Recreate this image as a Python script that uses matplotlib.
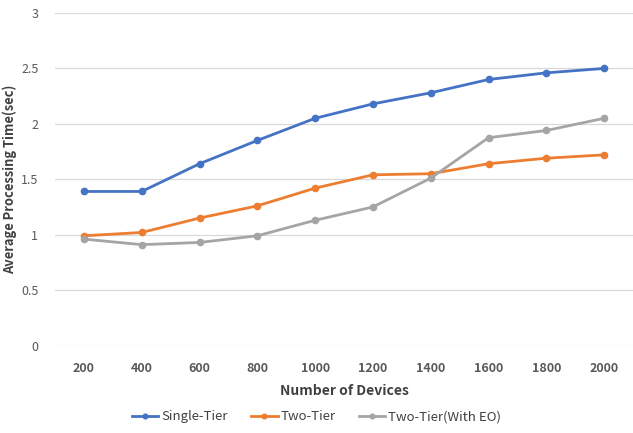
import numpy as np
import matplotlib
matplotlib.use("Agg")
import matplotlib.pyplot as plt

plt.rcParams['font.family'] = ['Noto Sans CJK KR', 'DejaVu Sans']

devices = ["200", "400", "600", "800", "1000", "1200", "1400", "1600", "1800", "2000"]
single_tier = [1.39, 1.39, 1.64, 1.85, 2.05, 2.18, 2.28, 2.40, 2.46, 2.50]
two_tier = [0.99, 1.02, 1.15, 1.26, 1.42, 1.54, 1.55, 1.64, 1.69, 1.72]
two_tier_eo = [0.96, 0.91, 0.93, 0.99, 1.13, 1.25, 1.51, 1.875, 1.94, 2.05]

fig = plt.figure(figsize=(6.33, 4.33), dpi=100)
ax = fig.add_axes([0.087, 0.202, 0.913, 0.768])

x = np.arange(len(devices))
ax.plot(x, single_tier, color="#4472C4", lw=2.0, marker="o", ms=4.5, label="Single-Tier")
ax.plot(x, two_tier, color="#ED7D31", lw=2.0, marker="o", ms=4.5, label="Two-Tier")
ax.plot(x, two_tier_eo, color="#A5A5A5", lw=2.0, marker="o", ms=4.5, label="Two-Tier(With EO)")

ax.set_xlim(-0.5, len(devices) - 0.5)
ax.set_ylim(0, 3)
ax.set_yticks([0, 0.5, 1, 1.5, 2, 2.5, 3])
ax.set_yticklabels(["0", "0.5", "1", "1.5", "2", "2.5", "3"])
ax.set_xticks(x)
ax.set_xticklabels(devices, fontweight="bold")
ax.tick_params(axis="both", length=0, colors="#595959", labelsize=9)
ax.tick_params(axis="x", pad=12)
ax.tick_params(axis="y", pad=12)
ax.grid(axis="y", color="#D9D9D9", lw=0.9)
ax.set_axisbelow(True)
for s in ax.spines.values():
    s.set_visible(False)

ax.set_xlabel("Number of Devices", fontsize=10, fontweight="bold", color="#404040", labelpad=6)
ax.set_ylabel("Average Processing Time(sec)", fontsize=9.3, fontweight="bold", color="#404040", labelpad=3)

fig.legend(loc="lower center", bbox_to_anchor=(0.5, -0.005), ncol=3, frameon=False,
           fontsize=9.5, labelcolor="#404040", handlelength=2.0, columnspacing=1.8,
           handletextpad=0.2, markerscale=0.75)

fig.savefig("out.png", dpi=100)
